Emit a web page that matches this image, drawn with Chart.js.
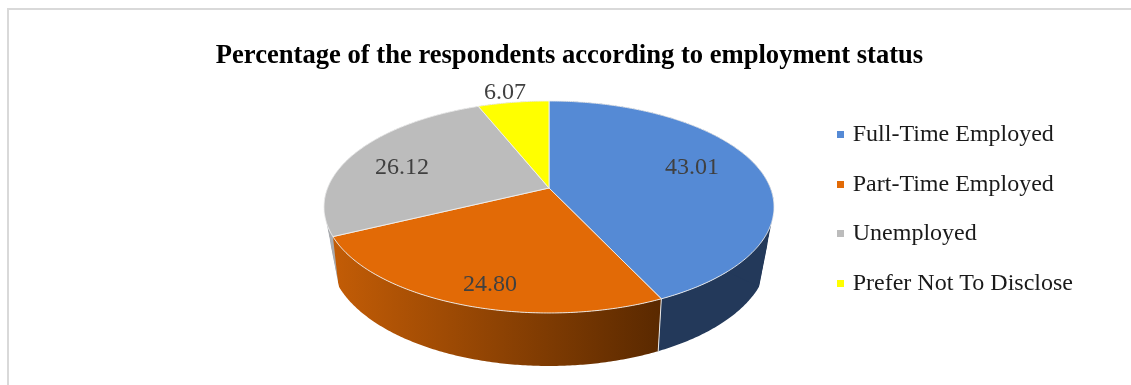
<!DOCTYPE html>
<html>
<head>
<meta charset="utf-8">
<script src="https://cdn.jsdelivr.net/npm/chart.js@4"></script>
<style>
    html, body { margin: 0; padding: 0; background: #fff; overflow: hidden; }
    #frame { position: absolute; left: 7px; top: 8px; width: 1124px; height: 377px; border-left: 2px solid #d9d9d9; border-top: 2px solid #d9d9d9; box-sizing: border-box; }
    #wrap { position: absolute; left: 0; top: 0; width: 1131px; height: 385px; }
</style>
</head>
<body>
<div id="frame"></div>
<div id="wrap"><canvas id="pieChart"></canvas></div>
<script>
var categories = ['Full-Time Employed', 'Part-Time Employed', 'Unemployed', 'Prefer Not To Disclose'];
var percentages = [43.01, 24.80, 26.12, 6.07];
var topColors = ['#558ad5', '#e26a06', '#bcbcbc', '#ffff00'];
var wallColors = ['#23395a', '#a34c02', '#a9abaf', '#b3b300'];

// perspective of the tilted disc, fitted to the rim of the reference
var apexX = 549, apexY = 188;
var scaleX = 221.4, scaleY = 102.6, tilt = 0.179;
var depthY = 47.8, depthW = 0.024;
// where the straight side edges of the wall touch the two rims
var edgeTop = 0.315, edgeBottom = 0.46;

// angle on the disc to screen, h = 0 top rim, h = 1 bottom rim
function project(angle, r, h) {
    var u = Math.cos(angle) * r, v = Math.sin(angle) * r;
    var w = 1 - tilt * v + depthW * h;
    return { x: apexX + scaleX * u / w, y: apexY + (scaleY * v + depthY * h) / w };
}

function traceRim(ctx, start, end, h, first) {
    var steps = Math.max(2, Math.ceil(Math.abs(end - start) / 0.01));
    for (var i = 0; i <= steps; i++) {
        var p = project(start + (end - start) * i / steps, 1, h);
        if (i === 0 && first) ctx.moveTo(p.x, p.y); else ctx.lineTo(p.x, p.y);
    }
}

function wallFill(ctx, index) {
    if (index !== 1) return wallColors[index];
    // the part-time wall goes dark to the right
    var g = ctx.createLinearGradient(336, 0, 660, 0);
    g.addColorStop(0, '#c25c06');
    g.addColorStop(1, '#5a2900');
    return g;
}

// point along the straight side edge, t = 0 top rim, t = 1 bottom rim
function sideEdge(side, t) {
    var topAngle = side > 0 ? edgeTop : Math.PI - edgeTop;
    var bottomAngle = side > 0 ? edgeBottom : Math.PI - edgeBottom;
    var a = project(topAngle, 1, 0), b = project(bottomAngle, 1, 1);
    return { x: a.x + (b.x - a.x) * t, y: a.y + (b.y - a.y) * t };
}

// fills the gap between a rim and the straight side edge
function fillSide(ctx, side, color) {
    var a = sideEdge(side, 0), b = sideEdge(side, 1), c = project(0, 0, 0);
    ctx.beginPath();
    ctx.moveTo(a.x, a.y);
    ctx.lineTo(b.x, b.y);
    ctx.lineTo(c.x, c.y);
    ctx.closePath();
    ctx.fillStyle = color;
    ctx.fill();
}

// small square used as legend marker
function legendSquare(color) {
    var c = document.createElement('canvas');
    c.width = 7;
    c.height = 7;
    var g = c.getContext('2d');
    g.fillStyle = color;
    g.fillRect(0, 0, 7, 7);
    return c;
}

// Draws the arcs the library laid out as a 3D disc
var disc3d = {
    id: 'disc3d',
    beforeDatasetsDraw: function (chart) {
        var ctx = chart.ctx;
        var arcs = chart.getDatasetMeta(0).data;
        ctx.save();
        ctx.lineJoin = 'round';
        // keep the wall inside its straight side edges
        ctx.save();
        var ul = sideEdge(-1, -3), ur = sideEdge(1, -3), dr = sideEdge(1, 3), dl = sideEdge(-1, 3);
        ctx.beginPath();
        ctx.moveTo(ul.x, ul.y);
        ctx.lineTo(ur.x, ur.y);
        ctx.lineTo(dr.x, dr.y);
        ctx.lineTo(dl.x, dl.y);
        ctx.closePath();
        ctx.clip();
        // back of the disc first
        [3, 2, 0, 1].forEach(function (i) {
            if (i === 1) {
                fillSide(ctx, -1, wallColors[2]);
                fillSide(ctx, 1, wallColors[0]);
            }
            ctx.beginPath();
            traceRim(ctx, arcs[i].startAngle, arcs[i].endAngle, 0, true);
            traceRim(ctx, arcs[i].endAngle, arcs[i].startAngle, 1, false);
            ctx.closePath();
            ctx.fillStyle = wallFill(ctx, i);
            ctx.fill();
        });
        ctx.restore();
        // seam between the front walls
        var seam = arcs[0].endAngle;
        var a = project(seam, 1, 0), b = project(seam, 1, 1);
        ctx.strokeStyle = '#e8e8e8';
        ctx.lineWidth = 1;
        ctx.beginPath();
        ctx.moveTo(a.x, a.y);
        ctx.lineTo(b.x, b.y);
        ctx.stroke();
        // top faces
        arcs.forEach(function (arc, i) {
            var c = project(0, 0, 0);
            ctx.beginPath();
            ctx.moveTo(c.x, c.y);
            traceRim(ctx, arc.startAngle, arc.endAngle, 0, false);
            ctx.closePath();
            ctx.fillStyle = topColors[i];
            ctx.fill();
            ctx.strokeStyle = 'rgba(240,240,240,0.9)';
            ctx.lineWidth = 1;
            ctx.stroke();
        });
        ctx.restore();
        return false;
    },
    afterDraw: function (chart) {
        var ctx = chart.ctx;
        // value labels sit where the reference put them
        var labelSpots = [[692, 168], [490, 285], [402, 168], [505, 93]];
        ctx.save();
        ctx.font = '24px "Liberation Serif"';
        ctx.fillStyle = '#404040';
        ctx.textAlign = 'center';
        ctx.textBaseline = 'middle';
        percentages.forEach(function (v, i) {
            ctx.fillText(v.toFixed(2), labelSpots[i][0], labelSpots[i][1]);
        });
        ctx.restore();
    }
};

window.onload = function () {
    var ctx = document.getElementById('pieChart');
    new Chart(ctx, {
        type: 'pie',
        data: {
            labels: categories,
            datasets: [{
                data: percentages,
                backgroundColor: topColors
            }]
        },
        options: {
            responsive: true,
            maintainAspectRatio: false,
            animation: false,
            layout: { padding: { top: 40, right: 48, bottom: 7, left: 56 } },
            plugins: {
                tooltip: { enabled: false },
                title: {
                    display: true,
                    text: 'Percentage of the respondents according to employment status',
                    color: '#000000',
                    font: { family: '"Liberation Serif"', size: 26.6, weight: 'bold' },
                    padding: { top: 0, bottom: 0 }
                },
                legend: {
                    position: 'right',
                    labels: {
                        usePointStyle: true,
                        boxHeight: 1,
                        boxWidth: 1,
                        padding: 25.5,
                        color: '#1a1a1a',
                        font: { family: '"Liberation Serif"', size: 24 },
                        generateLabels: function (chart) {
                            var items = Chart.overrides.doughnut.plugins.legend.labels.generateLabels(chart);
                            items.forEach(function (item, i) {
                                item.pointStyle = legendSquare(topColors[i]);
                            });
                            return items;
                        }
                    }
                }
            }
        },
        plugins: [disc3d]
    });
};
</script>
</body>
</html>
